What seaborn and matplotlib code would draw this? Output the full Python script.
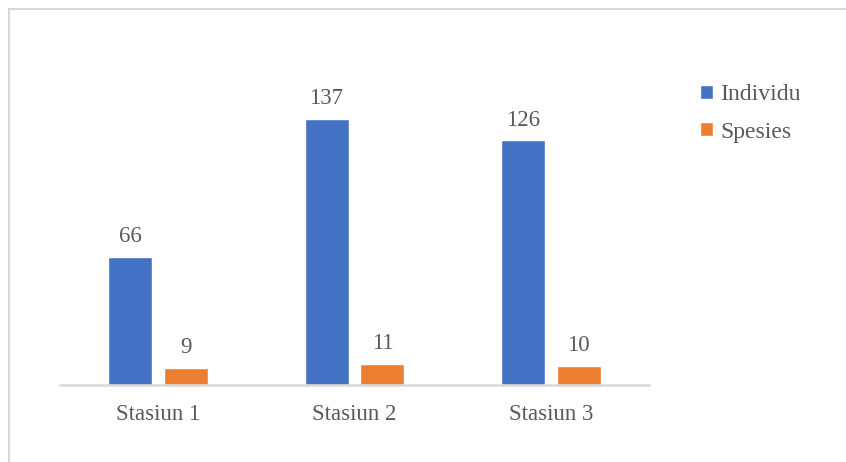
import seaborn as sns
import matplotlib.pyplot as plt
import pandas as pd
from matplotlib.patches import Rectangle

# data
stasiun = ['Stasiun 1', 'Stasiun 2', 'Stasiun 3']
individu = [66, 137, 126]
spesies = [9, 11, 10]
seri = ['Individu', 'Spesies']

df = pd.DataFrame({
    'Stasiun': stasiun * 2,
    'Seri': [seri[0]] * 3 + [seri[1]] * 3,
    'Nilai': individu + spesies,
})

sns.set_theme(style='white')
plt.rcParams['font.family'] = ['Liberation Serif', 'DejaVu Serif']

teks = '#595959'
fig = plt.figure(figsize=(8.46, 4.62), dpi=100)
ax = fig.add_axes([60 / 846, 77 / 462, 589 / 846, 345 / 462])

sns.barplot(data=df, x='Stasiun', y='Nilai', hue='Seri',
            palette=['#4472C4', '#ED7D31'], width=0.57, gap=0.214,
            saturation=1, ax=ax, legend=True)

for cont in ax.containers:
    ax.bar_label(cont, padding=7, fontsize=16.5, color=teks)

ax.set_ylim(0, 345 / 1.942)
ax.set_xlim(-0.5, 2.5)
ax.set_xlabel('')
ax.set_ylabel('')
ax.set_yticks([])
for s in ['top', 'right', 'left']:
    ax.spines[s].set_visible(False)
ax.spines['bottom'].set_color('#D9D9D9')
ax.spines['bottom'].set_linewidth(1.8)
ax.tick_params(axis='x', length=0, pad=14, labelsize=16.5, labelcolor=teks)

ax.legend(loc='upper left', bbox_to_anchor=(700 / 846, 1 - 84 / 462),
          bbox_transform=fig.transFigure, frameon=False, fontsize=17,
          handlelength=0.55, handleheight=0.55, handletextpad=0.3,
          labelspacing=0.7, labelcolor=teks, borderaxespad=0, borderpad=0)

# bingkai grafik
fig.patches.append(Rectangle((9 / 846, -0.1), 1.2, 1 - 9 / 462 + 0.1,
                             transform=fig.transFigure, fill=False,
                             edgecolor='#D9D9D9', linewidth=1.5))

fig.savefig('out.png', dpi=100)
